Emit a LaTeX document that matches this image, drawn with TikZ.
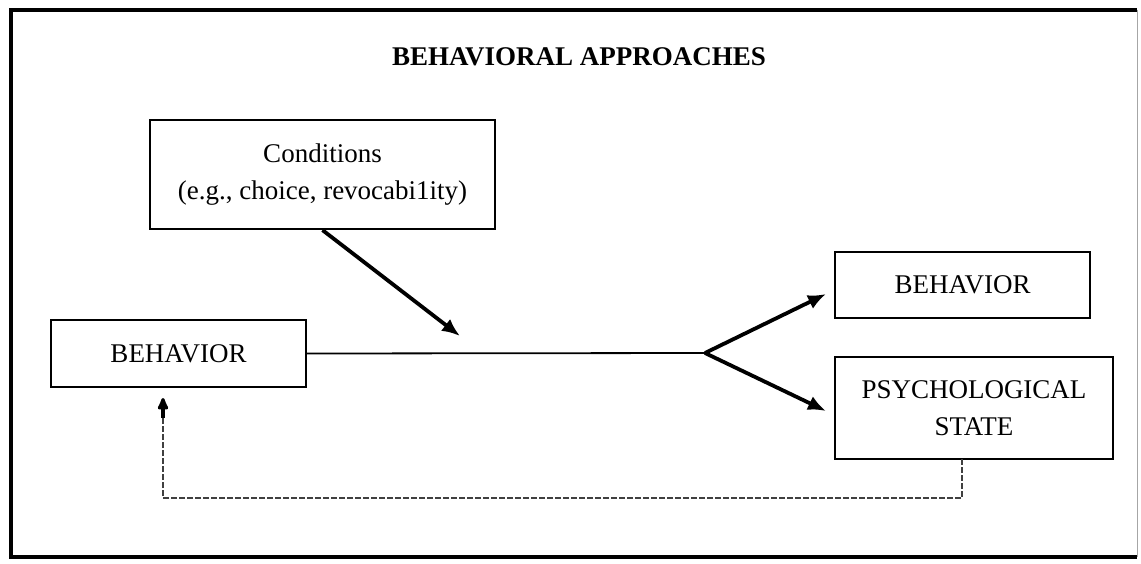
\documentclass[tikz,border=0pt]{standalone}
\usepackage{fontspec}
\setmainfont{Liberation Serif}
\usetikzlibrary{arrows.meta,calc}
\begin{document}
\begin{tikzpicture}[x=1pt,y=-1pt,
  box/.style={draw, line width=2.2pt, rectangle, align=center, inner sep=0pt,
              font=\fontsize{27}{37}\selectfont},
  flow/.style={line width=3.8pt, -{Latex[length=18pt,width=15pt]}},
  link/.style={line width=1.8pt},
  feedback/.style={line width=1.6pt, dash pattern=on 6pt off 2pt, color=black!75}]
  \useasboundingbox (0,0) rectangle (1141,563);
  % outer frame
  \draw[line width=3.2pt] (1137,10) -- (11,10) -- (11,557) -- (1137,557);
  \draw[line width=1pt, black!35] (1137,10) -- (1137,557);
  % title
  \node[font=\fontsize{27}{32}\selectfont\bfseries] (title) at (579,57) {BEHAVIORAL APPROACHES};
  % boxes
  \node[box, minimum width=345pt, minimum height=109pt] (cond) at (322.5,174.5)
    {Conditions\\(e.g., choice, revocabi1ity)};
  \node[box, minimum width=255pt, minimum height=67pt] (lbeh) at (178.5,353.5) {BEHAVIOR};
  \node[box, minimum width=255pt, minimum height=66pt] (rbeh) at (962.5,285) {BEHAVIOR};
  \node[box, minimum width=278pt, minimum height=102pt] (psy) at (974,408)
    {PSYCHOLOGICAL\\STATE};
  % connector points
  \coordinate (split) at (705,353);
  \coordinate (condtip) at (460,336);
  \coordinate (rbehtip) at (826,294);
  \coordinate (psytip) at (826,411);
  \coordinate (fbtop) at (962,459);
  \coordinate (fbcorner) at (962,498);
  \coordinate (fbleft) at (163,498);
  \coordinate (fbtip) at (163,398);
  % connectors
  \draw[link] (lbeh.east) -- (split);
  \draw[flow] (cond.south) -- (condtip);
  \draw[flow] (split) -- (rbehtip);
  \draw[flow] (split) -- (psytip);
  \draw[feedback] (fbtop) -- (fbcorner) -- (fbleft) -- ($(fbtip)+(0,16)$);
  \draw[line width=3.4pt, -{Latex[length=16pt,width=13pt,round]}] ($(fbtip)+(0,20)$) -- (fbtip);
\end{tikzpicture}
\end{document}
